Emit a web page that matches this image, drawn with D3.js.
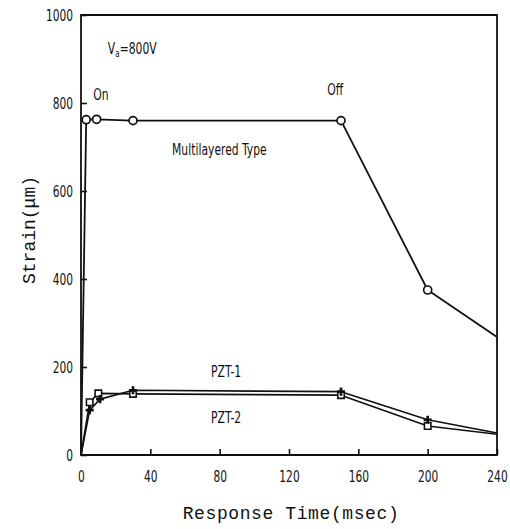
<!DOCTYPE html>
<html>
<head>
<meta charset="utf-8">
<script src="https://cdn.jsdelivr.net/npm/d3@7"></script>
<style>
  html, body { margin: 0; padding: 0; background: #fff; }
  svg { display: block; }
</style>
</head>
<body>
<svg id="chart" width="510" height="529"></svg>
<script>
// ---- data ----
const xTicks = [0, 40, 80, 120, 160, 200, 240];
const yTicks = [0, 200, 400, 600, 800, 1000];

const multiTime   = [0, 3, 9, 30, 150, 200, 240];
const multiStrain = [0, 762, 763, 760, 760, 375, 268];
const multiMarked = [false, true, true, true, true, true, false];

const pzt1Time   = [0, 5, 11, 30, 150, 200, 240];
const pzt1Strain = [0, 102, 127, 147, 144, 80, 50];
const pzt1Marked = [false, true, true, true, true, true, false];

const pzt2Time   = [0, 5, 10, 30, 150, 200, 240];
const pzt2Strain = [0, 120, 140, 139, 136, 66, 47];
const pzt2Marked = [false, true, true, true, true, true, false];

// annotations (data coordinates)
const notes = [
  { t: 15.5, v: 912, text: "V", sub: "a", rest: "=800V", size: 15 },
  { t: 7,    v: 806, text: "On",  size: 15 },
  { t: 142,  v: 818, text: "Off", size: 15 },
  { t: 52.5, v: 682, text: "Multilayered Type", size: 15 },
  { t: 75,   v: 177, text: "PZT-1", size: 15 },
  { t: 75,   v: 73,  text: "PZT-2", size: 15 }
];

// ---- layout ----
const svg = d3.select("#chart");
const ink = "#111";
const x = d3.scaleLinear().domain([0, 240]).range([81, 497]);
const y = d3.scaleLinear().domain([0, 1000]).range([455, 15]);
const narrow = "'Liberation Sans Narrow', 'DejaVu Sans Condensed', 'Liberation Sans', sans-serif";
const mono = "'Liberation Mono', 'DejaVu Sans Mono', monospace";

// frame
svg.append("path")
  .attr("d", `M${x(0)},${y(0)} V${y(1000)} H${x(240)} V${y(0)} Z`)
  .attr("fill", "none").attr("stroke", ink).attr("stroke-width", 1.8);

// axes
const xAxis = d3.axisBottom(x).tickValues(xTicks).tickFormat(d3.format("d"))
  .tickSizeInner(-6).tickSizeOuter(0).tickPadding(16);
const yAxis = d3.axisLeft(y).tickValues(yTicks).tickFormat(d3.format("d"))
  .tickSizeInner(-6).tickSizeOuter(0).tickPadding(8);

const gx = svg.append("g").attr("transform", `translate(0,${y(0)})`).call(xAxis);
const gy = svg.append("g").attr("transform", `translate(${x(0)},0)`).call(yAxis);
[gx, gy].forEach(g => {
  g.select(".domain").remove();
  g.selectAll(".tick line").attr("stroke", ink).attr("stroke-width", 1.6);
  g.selectAll(".tick text").attr("fill", ink).style("font-family", narrow).style("font-size", "16px");
});
// condense tick labels horizontally
const sx = 0.74;
gy.selectAll(".tick text").each(function () {
  const t = d3.select(this);
  const xv = +t.attr("x");
  t.attr("x", xv / sx).attr("transform", `scale(${sx},1)`);
});
gx.selectAll(".tick text").attr("transform", `scale(${sx},1)`);

// axis titles
svg.append("text")
  .attr("x", 291).attr("y", 519)
  .attr("text-anchor", "middle")
  .style("font-family", mono).style("font-size", "18px")
  .style("letter-spacing", "0.6px")
  .attr("fill", ink)
  .text("Response Time(msec)");

svg.append("text")
  .attr("transform", "translate(35,230) rotate(-90)")
  .attr("text-anchor", "middle")
  .style("font-family", mono).style("font-size", "18px")
  .attr("fill", ink)
  .text("Strain(\u03bcm)");

// ---- series ----
const line = d3.line().x(d => x(d.t)).y(d => y(d.v));
function zipSeries(ts, vs, ms) { return ts.map((t, i) => ({ t, v: vs[i], m: ms[i] })); }

const multi = zipSeries(multiTime, multiStrain, multiMarked);
const pzt1 = zipSeries(pzt1Time, pzt1Strain, pzt1Marked);
const pzt2 = zipSeries(pzt2Time, pzt2Strain, pzt2Marked);

[multi, pzt1, pzt2].forEach((s, i) => {
  svg.append("path").datum(s)
    .attr("d", line)
    .attr("fill", "none")
    .attr("stroke", ink)
    .attr("stroke-width", i === 0 ? 1.8 : 1.6)
    .attr("stroke-linejoin", "round");
});

// markers
svg.append("g").selectAll("circle").data(multi.filter(d => d.m)).join("circle")
  .attr("cx", d => x(d.t)).attr("cy", d => y(d.v)).attr("r", 4)
  .attr("fill", "#fff").attr("stroke", ink).attr("stroke-width", 1.7);

svg.append("g").selectAll("path").data(pzt2.filter(d => d.m)).join("path")
  .attr("transform", d => `translate(${x(d.t)},${y(d.v)})`)
  .attr("d", d3.symbol().type(d3.symbolSquare).size(42))
  .attr("fill", "#fff").attr("stroke", ink).attr("stroke-width", 1.6);

svg.append("g").selectAll("path").data(pzt1.filter(d => d.m)).join("path")
  .attr("transform", d => `translate(${x(d.t)},${y(d.v)})`)
  .attr("d", d3.symbol().type(d3.symbolCross).size(36))
  .attr("fill", ink).attr("stroke", "none");

// annotations
notes.forEach(n => {
  const t = svg.append("text")
    .attr("transform", `translate(${x(n.t)},${y(n.v)}) scale(0.8,1)`)
    .style("font-family", narrow).style("font-size", n.size + "px")
    .attr("fill", ink);
  t.append("tspan").text(n.text);
  if (n.sub) {
    t.append("tspan").attr("dy", 3).style("font-size", "10px").text(n.sub);
    t.append("tspan").attr("dy", -3).text(n.rest);
  }
});
</script>
</body>
</html>
